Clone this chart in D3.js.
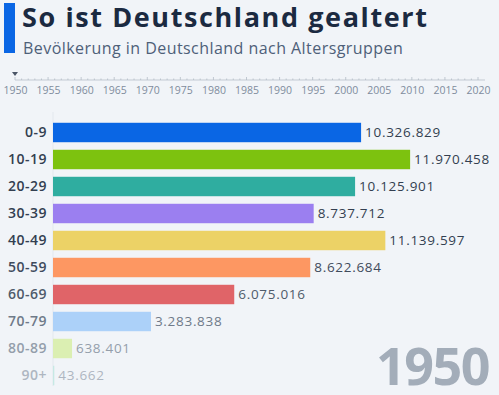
<!DOCTYPE html>
<html>
<head>
<meta charset="utf-8">
<script src="https://cdn.jsdelivr.net/npm/d3@7"></script>
<style>
  body { margin: 0; background: #f1f4f8; }
  svg { display: block; font-family: "Open Sans", sans-serif; }
</style>
</head>
<body>
<script>
var w = 499;
var h = 395;

// data
var groups = ["0-9", "10-19", "20-29", "30-39", "40-49", "50-59", "60-69", "70-79", "80-89", "90+"];
var values = [10326829, 11970458, 10125901, 8737712, 11139597, 8622684, 6075016, 3283838, 638401, 43662];
var years = [1950, 1955, 1960, 1965, 1970, 1975, 1980, 1985, 1990, 1995, 2000, 2005, 2010, 2015, 2020];
var currentYear = 1950;

var colors = ["#0a66e4", "#7dc20f", "#2fada0", "#9b7ff0", "#ecd266", "#fd9762", "#e06468", "#acd1f9", "#dbefb2", "#c6e9e4"];
var textFade = ["#333f50", "#333f50", "#333f50", "#333f50", "#333f50", "#3f4b5c", "#4f5b6b", "#6f7a89", "#949eab", "#aeb6c1"];

var svg = d3.select("body")
    .append("svg")
    .attr("width", w)
    .attr("height", h);

svg.append("rect")
    .attr("width", w)
    .attr("height", h)
    .attr("fill", "#f1f4f8");

// header
svg.append("rect")
    .attr("x", 4)
    .attr("y", 3)
    .attr("width", 11)
    .attr("height", 50)
    .attr("fill", "#0a66e4");

svg.append("text")
    .attr("x", 22)
    .attr("y", 27)
    .attr("font-size", 27)
    .attr("font-weight", "bold")
    .attr("letter-spacing", 1.6)
    .attr("fill", "#1b2a41")
    .text("So ist Deutschland gealtert");

svg.append("text")
    .attr("x", 23)
    .attr("y", 54)
    .attr("font-size", 16)
    .attr("letter-spacing", 0.45)
    .attr("fill", "#4e6079")
    .text("Bevölkerung in Deutschland nach Altersgruppen");

// timeline
var tScale = d3.scaleLinear()
    .domain([1950, 2020])
    .range([15, 478]);

var tAxis = d3.axisBottom(tScale)
    .tickValues(years)
    .tickFormat(d3.format("d"))
    .tickSize(0)
    .tickPadding(6);

var tl = svg.append("g")
    .attr("transform", "translate(0,81)")
    .call(tAxis);
tl.select(".domain").remove();
tl.selectAll("text")
    .attr("font-size", 10.5)
    .attr("font-family", "Open Sans, sans-serif")
    .attr("fill", "#7f8c9d");

svg.append("line")
    .attr("x1", tScale(1950))
    .attr("x2", 485)
    .attr("y1", 80)
    .attr("y2", 80)
    .attr("stroke", "#c3cad3");

svg.selectAll(".ytick")
    .data(d3.range(1950, 2021))
    .enter()
    .append("line")
    .attr("x1", function(d) { return tScale(d); })
    .attr("x2", function(d) { return tScale(d); })
    .attr("y1", function(d) { return d % 5 === 0 ? 77 : 78.5; })
    .attr("y2", 80)
    .attr("stroke", "#b4bcc7")
    .attr("stroke-width", 0.8);

svg.append("path")
    .attr("d", "M" + (tScale(currentYear) - 3) + ",72 L" + (tScale(currentYear) + 3) + ",72 L" + tScale(currentYear) + ",76 Z")
    .attr("fill", "#4a5566");

// bars
var xScale = d3.scaleLinear()
    .domain([0, 12000000])
    .range([53, 411]);

var yScale = d3.scaleBand()
    .domain(groups)
    .range([119, 389])
    .paddingInner(0.28)
    .paddingOuter(0.14);

svg.append("line")
    .attr("x1", xScale(0))
    .attr("x2", xScale(0))
    .attr("y1", 112)
    .attr("y2", 386)
    .attr("stroke", "#e3e8ee");

var fmt = d3.formatLocale({ decimal: ",", thousands: ".", grouping: [3] }).format(",d");

svg.selectAll(".bar")
    .data(values)
    .enter()
    .append("rect")
    .attr("x", xScale(0))
    .attr("y", function(d, i) { return yScale(groups[i]); })
    .attr("width", function(d) { return Math.max(1, xScale(d) - xScale(0)); })
    .attr("height", yScale.bandwidth())
    .attr("fill", function(d, i) { return colors[i]; });

svg.selectAll(".val")
    .data(values)
    .enter()
    .append("text")
    .attr("x", function(d) { return Math.max(xScale(d), xScale(0) + 1) + 4; })
    .attr("y", function(d, i) { return yScale(groups[i]) + yScale.bandwidth() / 2; })
    .attr("dy", "0.35em")
    .attr("font-size", 13.5)
    .attr("letter-spacing", 0.7)
    .attr("fill", function(d, i) { return textFade[i]; })
    .text(function(d) { return fmt(d); });

svg.selectAll(".cat")
    .data(groups)
    .enter()
    .append("text")
    .attr("x", 47)
    .attr("y", function(d) { return yScale(d) + yScale.bandwidth() / 2; })
    .attr("dy", "0.35em")
    .attr("text-anchor", "end")
    .attr("font-size", 14)
    .attr("font-weight", 600)
    .attr("letter-spacing", 0.5)
    .attr("fill", function(d, i) { return textFade[i]; })
    .text(function(d) { return d; });

// big year
svg.append("text")
    .attr("x", 489)
    .attr("y", 385)
    .attr("text-anchor", "end")
    .attr("font-size", 52)
    .attr("font-weight", "bold")
    .attr("letter-spacing", -1.5)
    .attr("fill", "#a3adb9")
    .text(currentYear);
</script>
</body>
</html>
